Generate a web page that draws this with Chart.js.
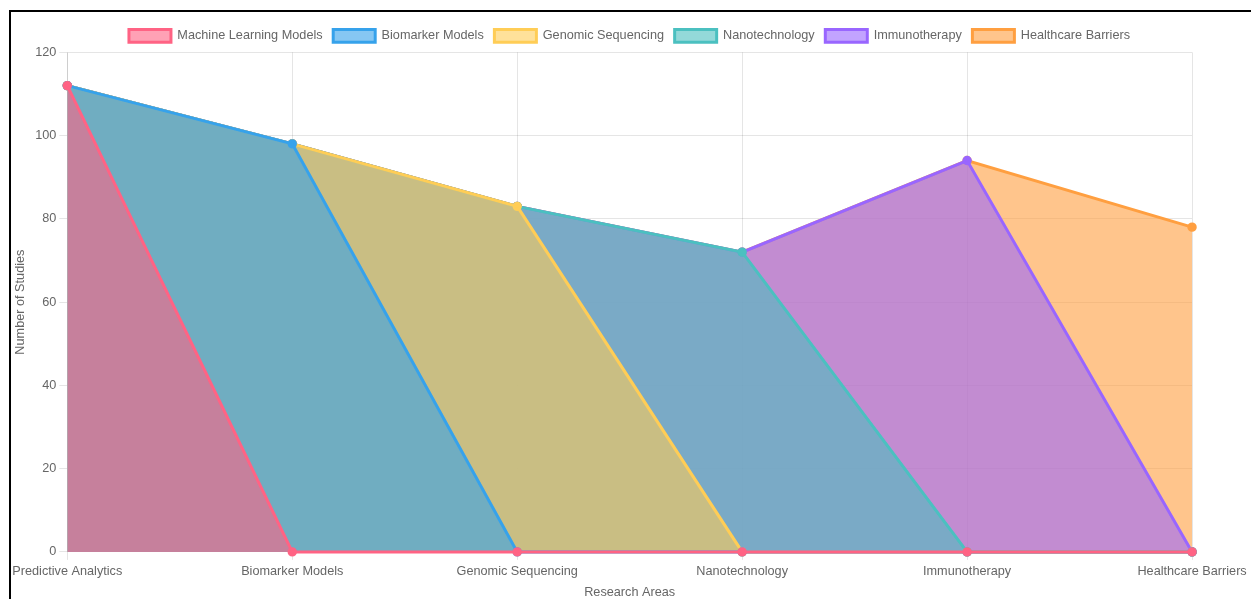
<!DOCTYPE html>
<html>
<head>
<meta charset="utf-8">
<script src="https://cdn.jsdelivr.net/npm/chart.js@4/dist/chart.umd.min.js"></script>
<style>
  html, body { margin: 0; padding: 0; background: #fff; overflow: hidden; }
  #frame { position: absolute; left: 9px; top: 10px; width: 1260px; height: 620px; border: 2px solid #000; box-sizing: border-box; }
  #wrap { position: absolute; left: -3px; top: 0px; width: 1243px; height: 592px; }
</style>
</head>
<body>
<div id="frame"><div id="wrap"><canvas id="c"></canvas></div></div>
<script>
const categories = ["Predictive Analytics", "Biomarker Models", "Genomic Sequencing", "Nanotechnology", "Immunotherapy", "Healthcare Barriers"];
const seriesNames = ["Machine Learning Models", "Biomarker Models", "Genomic Sequencing", "Nanotechnology", "Immunotherapy", "Healthcare Barriers"];
const mlValues = [112, 0, 0, 0, 0, 0];
const biomarkerValues = [112, 98, 0, 0, 0, 0];
const genomicValues = [112, 98, 83, 0, 0, 0];
const nanoValues = [112, 98, 83, 72, 0, 0];
const immunoValues = [112, 98, 83, 72, 94, 0];
const barrierValues = [112, 98, 83, 72, 94, 78];
const yTicks = [0, 20, 40, 60, 80, 100, 120];

const seriesValues = [mlValues, biomarkerValues, genomicValues, nanoValues, immunoValues, barrierValues];
const lineColors = ["rgb(255,99,132)", "rgb(54,162,235)", "rgb(255,205,86)", "rgb(75,192,192)", "rgb(153,102,255)", "rgb(255,159,64)"];
const fillColors = ["rgba(255,99,132,0.6)", "rgba(54,162,235,0.6)", "rgba(255,205,86,0.6)", "rgba(75,192,192,0.6)", "rgba(153,102,255,0.6)", "rgba(255,159,64,0.6)"];

Chart.defaults.font.family = "'Liberation Sans', Arial, Helvetica, sans-serif";
Chart.defaults.font.size = 12.7;
Chart.defaults.color = "#666";

new Chart(document.getElementById("c"), {
  type: "line",
  data: {
    labels: categories,
    datasets: seriesNames.map((name, i) => ({
      label: name,
      data: seriesValues[i],
      borderColor: lineColors[i],
      backgroundColor: fillColors[i],
      pointBackgroundColor: lineColors[i],
      pointBorderColor: lineColors[i],
      borderWidth: 3,
      pointRadius: 3.2,
      fill: "origin",
      tension: 0,
      clip: false
    }))
  },
  options: {
    responsive: true,
    maintainAspectRatio: false,
    animation: false,
    layout: { padding: { top: 7 } },
    plugins: {
      legend: { position: "top", labels: { boxWidth: 42, padding: 10.6 } },
      tooltip: { enabled: false }
    },
    scales: {
      x: {
        title: { display: true, text: "Research Areas", padding: { top: 1, bottom: 4 } },
        ticks: { padding: 4.3 },
        grid: { color: "rgba(0,0,0,0.1)" }
      },
      y: {
        min: 0, max: 120,
        afterBuildTicks: (axis) => { axis.ticks = yTicks.map(v => ({ value: v })); },
        title: { display: true, text: "Number of Studies", padding: { top: 1, bottom: 4 } },
        grid: { color: "rgba(0,0,0,0.1)" }
      }
    }
  }
});
</script>
</body>
</html>
